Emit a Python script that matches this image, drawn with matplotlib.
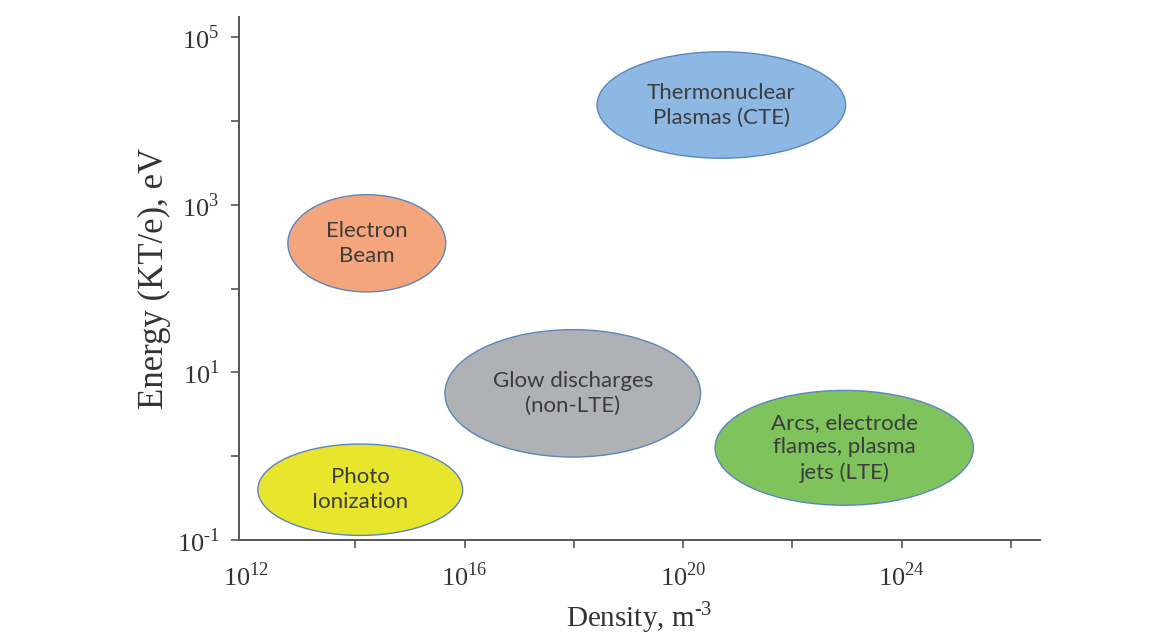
import matplotlib.pyplot as plt
from matplotlib.patches import Ellipse

# plasma regimes: log10 density (m^-3) and log10 energy (eV) of each region
regions = ['Thermonuclear\nPlasmas (CTE)', 'Electron\nBeam', 'Glow discharges\n(non-LTE)',
           'Arcs, electrode\nflames, plasma\njets (LTE)', 'Photo\nIonization']
dens_center = [20.70, 14.21, 17.98, 22.95, 14.09]
dens_width = [4.55, 2.89, 4.68, 4.73, 3.75]
energy_center = [4.19, 2.54, 0.75, 0.10, -0.40]
energy_height = [1.27, 1.16, 1.52, 1.37, 1.09]
colors = ['#8db8e4', '#f4a57c', '#afb1b5', '#7fc35c', '#e8e62c']

x_ticks = [12, 14, 16, 18, 20, 22, 24, 26]
x_labeled = [12, 16, 20, 24]
y_ticks = [-1, 0, 1, 2, 3, 4, 5]
y_labeled = [-1, 1, 3, 5]

plt.rcParams['font.family'] = 'Liberation Serif'
plt.rcParams['mathtext.fontset'] = 'custom'
plt.rcParams['mathtext.rm'] = 'Liberation Serif'


def power_label(e):
    # hyphen instead of a long minus sign in the exponent
    return r'$10^{\text{%s}}$' % str(e)


fig = plt.figure(figsize=(11.64, 6.36), dpi=100)
ax = fig.add_axes([0.2053, 0.1509, 0.688, 0.8224])

for name, xc, w, yc, h, c in zip(regions, dens_center, dens_width,
                                 energy_center, energy_height, colors):
    ax.add_patch(Ellipse((xc, yc), w, h, facecolor=c, edgecolor='#5b86c0', lw=1.0, zorder=2))
    ax.text(xc, yc, name, ha='center', va='center', fontsize=16, family='Lato',
            color='#3c3c3c', linespacing=1.3, zorder=3)

ax.set_xlim(11.87, 26.53)
ax.set_ylim(-1, 5.24)

ax.set_xticks(x_ticks)
ax.set_xticklabels([power_label(t) if t in x_labeled else '' for t in x_ticks])
ax.set_yticks(y_ticks)
ax.set_yticklabels([power_label(t) if t in y_labeled else '' for t in y_ticks])
# no tick mark at the first density label, it sits against the y axis
ax.xaxis.get_major_ticks()[0].tick1line.set_visible(False)

for side in ['top', 'right']:
    ax.spines[side].set_visible(False)
for side in ['left', 'bottom']:
    ax.spines[side].set_color('#555555')
    ax.spines[side].set_linewidth(1.4)
ax.tick_params(axis='both', length=6, width=1.2, color='#555555', labelsize=19, labelcolor='#333333')
ax.tick_params(axis='x', pad=10)
ax.tick_params(axis='y', pad=8)

ax.set_xlabel(r'Density, m$^{\text{-3}}$', fontsize=21, color='#333333', labelpad=6)
ax.set_ylabel('Energy (KT/e), eV', fontsize=25, color='#333333', labelpad=4)

fig.savefig('out.png', dpi=100)
